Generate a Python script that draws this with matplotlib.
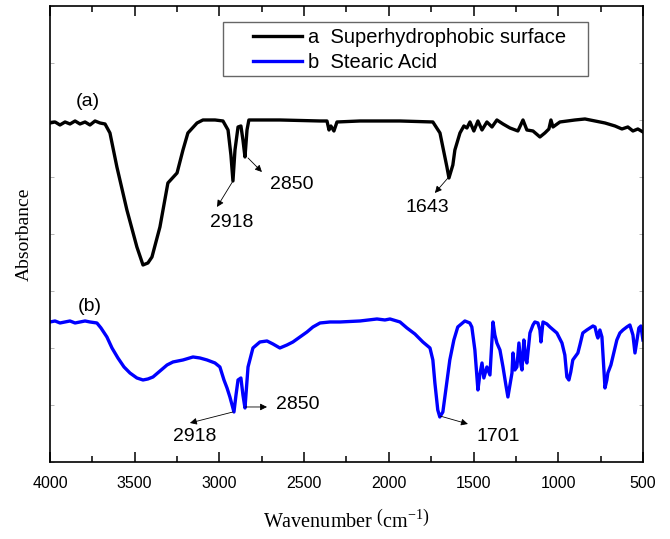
import numpy as np
import matplotlib
matplotlib.use('Agg')
import matplotlib.pyplot as plt
from matplotlib.patches import Rectangle

plt.rcParams['font.family'] = ['Liberation Sans', 'DejaVu Sans']
plt.rcParams['mathtext.fontset'] = 'custom'
plt.rcParams['mathtext.rm'] = 'Liberation Serif'

# (a) superhydrophobic surface, wavenumber and signal (arbitrary units)
wn_a = [4000, 3970, 3941, 3911, 3882, 3852, 3823, 3793, 3764, 3734, 3705, 3675,
        3646, 3605, 3546, 3487, 3451, 3422, 3398, 3351, 3304, 3250, 3215, 3186,
        3132, 3097, 3026, 2979, 2949, 2932, 2920, 2908, 2890, 2873, 2861, 2849,
        2837, 2826, 2643, 2406, 2365, 2353, 2342, 2324, 2306, 2170, 1934, 1740,
        1698, 1657, 1645, 1622, 1610, 1580, 1557, 1539, 1521, 1498, 1474, 1450,
        1421, 1391, 1362, 1326, 1285, 1238, 1208, 1185, 1149, 1108, 1079, 1055,
        1043, 1031, 990, 901, 842, 783, 724, 665, 624, 589, 559, 530, 500]
sig_a = [339, 340, 337, 340, 338, 341, 338, 340, 337, 341, 339, 338,
         329, 295, 252, 215, 197, 199, 205, 235, 279, 289, 312, 329,
         339, 342, 342, 341, 332, 307, 281, 312, 335, 336, 322, 305,
         332, 342, 342, 341, 341, 332, 336, 331, 340, 341, 341, 340,
         329, 295, 284, 297, 312, 329, 336, 334, 340, 331, 341, 332,
         340, 335, 342, 338, 334, 331, 342, 332, 331, 325, 329, 333,
         342, 335, 340, 342, 343, 341, 339, 336, 333, 335, 331, 333, 330]

# (b) stearic acid
wn_b = [4000, 3970, 3941, 3911, 3882, 3852, 3823, 3793, 3764, 3723, 3699, 3664,
        3634, 3599, 3563, 3528, 3487, 3451, 3422, 3392, 3351, 3309, 3274, 3215,
        3156, 3115, 3073, 3026, 2997, 2973, 2955, 2938, 2914, 2902, 2890, 2873,
        2861, 2849, 2831, 2802, 2761, 2719, 2684, 2643, 2601, 2566, 2525, 2483,
        2448, 2406, 2347, 2288, 2170, 2070, 2023, 1993, 1934, 1893, 1846, 1799,
        1757, 1740, 1728, 1711, 1699, 1681, 1669, 1652, 1640, 1616, 1593, 1551,
        1522, 1510, 1492, 1474, 1463, 1450, 1439, 1421, 1403, 1385, 1374, 1362,
        1344, 1326, 1309, 1297, 1285, 1273, 1267, 1256, 1244, 1232, 1220, 1214,
        1203, 1191, 1185, 1167, 1149, 1138, 1120, 1108, 1102, 1090, 1067, 1049,
        1008, 978, 961, 949, 937, 926, 914, 884, 872, 855, 831, 813, 795, 783,
        772, 766, 754, 742, 730, 724, 713, 707, 689, 671, 654, 636, 618, 595,
        577, 559, 547, 535, 524, 512, 500]
sig_b = [140, 141, 139, 140, 141, 139, 140, 141, 140, 139, 134, 125,
         114, 104, 95, 89, 84, 82, 83, 85, 91, 97, 100, 102,
         105, 104, 102, 99, 95, 82, 74, 65, 50, 67, 82, 84,
         67, 54, 95, 114, 120, 121, 118, 114, 117, 120, 125, 130,
         135, 139, 140, 140, 141, 143, 142, 143, 140, 134, 128, 120,
         114, 102, 79, 52, 45, 50, 65, 87, 102, 122, 135, 141,
         139, 135, 112, 72, 87, 99, 84, 95, 87, 140, 127, 119,
         112, 95, 77, 65, 77, 89, 109, 92, 95, 119, 97, 92,
         122, 102, 99, 129, 137, 140, 139, 132, 120, 140, 138, 135,
         129, 119, 107, 85, 82, 90, 102, 109, 117, 129, 132, 134, 136, 135,
         127, 124, 132, 125, 92, 74, 82, 89, 97, 110, 122, 129, 132, 135,
         137, 127, 109, 122, 134, 136, 122]

# peak labels: (text, peak position, arrow tip, text position)
peaks = [
    ('2918', (2920, 281), (3014, 255), (2926, 239)),
    ('2850', (2831, 304), (2749, 290), (2572, 277)),
    ('1643', (1651, 284), (1728, 269), (1775, 254)),
    ('2918', (2920, 50), (3174, 39), (3144, 25)),
    ('2850', (2849, 55), (2719, 55), (2536, 57)),
    ('1701', (1698, 46), (1533, 38), (1356, 25)),
]

fig = plt.figure(figsize=(6.7, 5.39), dpi=100)
ax = fig.add_axes([0.0746, 0.1429, 0.885, 0.846])

la, = ax.plot(wn_a, sig_a, color='black', lw=2.4)
lb, = ax.plot(wn_b, sig_b, color='#0000ff', lw=2.4)

for lab, tail, tip, txt in peaks:
    ax.annotate('', xy=tip, xytext=tail,
                arrowprops=dict(arrowstyle='-|>', color='black', lw=0.6,
                                mutation_scale=10, shrinkA=0, shrinkB=0))
    ax.text(txt[0], txt[1], lab, fontsize=14, ha='center', va='center')

ax.text(3779, 360, '(a)', fontsize=14, ha='center', va='center')
ax.text(3764, 155, '(b)', fontsize=14, ha='center', va='center')

ax.set_xlim(4000, 500)
ax.set_ylim(0, 456)
ax.set_xticks(np.arange(4000, 499, -500))
ax.set_xticks(np.arange(3750, 500, -500), minor=True)
ax.set_yticks(np.linspace(0, 456, 9))
ax.set_yticklabels([])
ax.tick_params(axis='x', which='major', direction='in', length=7, width=1.1,
               top=True, labelsize=11.5, pad=10)
ax.tick_params(axis='x', which='minor', direction='in', length=4, width=1.1, top=True)
ax.tick_params(axis='y', direction='in', length=3, width=0.5, color='#999999', right=True)
for s in ax.spines.values():
    s.set_linewidth(1.2)

ax.set_ylabel('Absorbance', family='Liberation Serif', fontsize=14, labelpad=9)
ax.set_xlabel(r'Wavenumber $\left(\mathrm{cm}^{-1}\right)$', family='Liberation Serif',
              fontsize=14.5, labelpad=13)

ax.add_patch(Rectangle((0.2917, 0.8465), 0.6156, 0.1185, transform=ax.transAxes,
                       fill=False, edgecolor='#666666', lw=1.0))
ax.legend([la, lb], ['a  Superhydrophobic surface', 'b  Stearic Acid'],
          loc='upper left', bbox_to_anchor=(0.342, 0.952), frameon=False,
          borderpad=0, borderaxespad=0, handlelength=2.45, handletextpad=0.3,
          labelspacing=0.3, fontsize=14.5)

fig.savefig('out.png', dpi=100)
